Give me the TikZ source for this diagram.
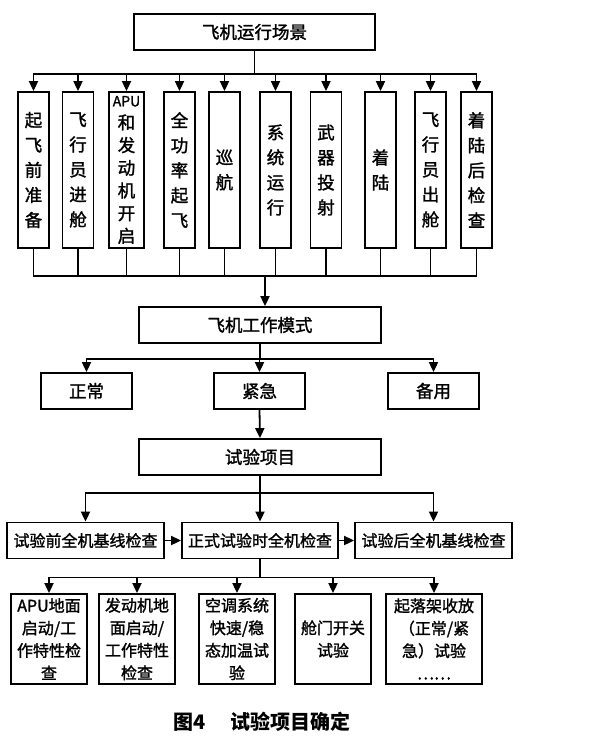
\documentclass[tikz,border=0pt]{standalone}
\usepackage{fontspec}
\setmainfont{Noto Sans CJK SC}[FakeBold=1.5]
\newfontfamily\capfont{Noto Sans CJK SC}
\usetikzlibrary{arrows.meta}
\tikzset{
  box/.style={draw, line width=1.8pt, inner sep=0pt, align=center, font=\fontsize{17.5}{25}\selectfont},
  vbox/.style={box, minimum width=31pt, minimum height=156pt},
  hbox/.style={box, minimum height=36pt},
  sbox/.style={box, minimum width=76pt, minimum height=90pt, font=\fontsize{16}{22.5}\selectfont},
  ln/.style={line width=1.8pt},
  arr/.style={ln, -{Triangle[length=10pt,width=9pt]}}
}
\begin{document}
\begin{tikzpicture}[x=1pt,y=-1pt]
\useasboundingbox (0,0) rectangle (596,742);
% top
\node[hbox, minimum width=241pt] (top) at (254.5,32) {飞机运行场景};
\node[vbox] (v1) at (33.5,170) {起\\飞\\前\\准\\备};
\node[vbox] (v2) at (78,170) {飞\\行\\员\\进\\舱};
\node[vbox, minimum width=35pt, font=\fontsize{17.5}{22.7}\selectfont] (v3) at (126.5,170) {{\fontsize{14}{14}\selectfont APU}\\和\\发\\动\\机\\开\\启};
\node[vbox] (v4) at (179.5,170) {全\\功\\率\\起\\飞};
\node[vbox] (v5) at (224.5,170) {巡\\航};
\node[vbox] (v6) at (275.5,170) {系\\统\\运\\行};
\node[vbox] (v7) at (326,170) {武\\器\\投\\射};
\node[vbox] (v8) at (380.5,170) {着\\陆};
\node[vbox] (v9) at (430.5,170) {飞\\行\\员\\出\\舱};
\node[vbox] (v10) at (476.5,170) {着\\陆\\后\\检\\查};
\foreach \i in {1,...,10} \draw[arr] (top.south) -- ++(0,23) -| (v\i.north);
% mode
\node[hbox, minimum width=242pt] (mode) at (260,325) {飞机工作模式};
\coordinate (jb) at (265,276);
\foreach \i in {1,...,10} \draw[ln] (v\i.south) |- (jb);
\draw[arr] (jb) -- (jb |- mode.north);
\node[hbox, minimum width=91pt] (n1) at (86.5,391) {正常};
\node[hbox, minimum width=91pt] (n2) at (259.5,391) {紧急};
\node[hbox, minimum width=91pt] (n3) at (433.5,391) {备用};
\foreach \n in {n1,n2,n3} \draw[arr] (mode.south) -- ++(0,15) -| (\n.north);
\node[hbox, minimum width=242pt] (test) at (260,457) {试验项目};
\draw[arr] (n2.south) -- (test.north);
\node[hbox, minimum width=157pt, font=\fontsize{16}{20}\selectfont] (r1) at (85.5,540.5) {试验前全机基线检查};
\node[hbox, minimum width=156pt, font=\fontsize{16}{20}\selectfont] (r2) at (260,540.5) {正式试验时全机检查};
\node[hbox, minimum width=157pt, font=\fontsize{16}{20}\selectfont] (r3) at (433.5,540.5) {试验后全机基线检查};
\foreach \n in {r1,r2,r3} \draw[arr] (test.south) -- ++(0,17) -| (\n.north);
\draw[arr] (r1.east) -- (r2.west);
\draw[arr] (r2.east) -- (r3.west);
\node[sbox] (b1) at (49,639) {APU地面\\启动/工\\作特性检\\查};
\node[sbox] (b2) at (137,639) {发动机地\\面启动/\\工作特性\\检查};
\node[sbox] (b3) at (237,639) {空调系统\\快速/稳\\态加温试\\验};
\node[sbox] (b4) at (333,639) {舱门开关\\试验};
\node[sbox, minimum width=96pt] (b5) at (434,639) {起落架收放\\（正常/紧\\急）试验\\……};
\foreach \n in {b1,b2,b3,b4,b5} \draw[arr] (r2.south) -- ++(0,18) -| (\n.north);
\node[font=\capfont\bfseries\fontsize{20}{24}\selectfont] (cap) at (262,722) {图4\hspace{1.2em}试验项目确定};
\end{tikzpicture}
\end{document}
